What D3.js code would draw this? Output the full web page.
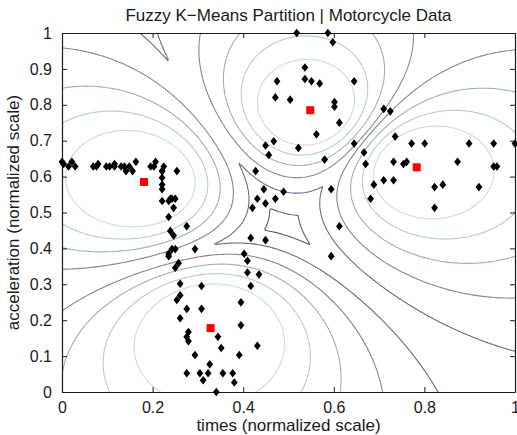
<!DOCTYPE html>
<html>
<head>
<meta charset="utf-8">
<script src="https://cdn.jsdelivr.net/npm/d3@7"></script>
<style>
  body { margin: 0; background: #fff; }
  text { font-family: "Liberation Sans", Arial, Helvetica, sans-serif; fill: #1a1a1a; }
</style>
</head>
<body>
<div id="chart"></div>
<script>
// motorcycle data (times in ms, acceleration in g), shown on a normalized scale
var times = [2.4,2.6,3.2,3.6,4.0,6.2,6.6,6.8,7.8,8.2,8.8,8.8,9.6,10.0,10.2,10.6,11.0,11.4,13.2,13.6,
  13.8,14.6,14.6,14.6,14.6,14.6,14.6,14.8,15.4,15.4,15.4,15.4,15.6,15.6,15.8,15.8,16.0,16.0,16.2,16.2,
  16.2,16.4,16.4,16.6,16.8,16.8,16.8,17.6,17.6,17.6,17.6,17.8,17.8,18.6,18.6,19.2,19.4,19.4,19.6,20.2,
  20.4,21.2,21.4,21.8,22.0,23.2,23.4,24.0,24.2,24.2,24.6,25.0,25.0,25.4,25.4,25.6,26.0,26.2,26.2,26.4,
  27.0,27.2,27.2,27.2,27.6,28.2,28.4,28.4,28.6,29.4,30.2,31.0,31.2,32.0,32.0,32.8,33.4,33.8,34.4,34.8,
  35.2,35.2,35.4,35.6,35.6,36.2,36.2,38.0,38.0,39.2,39.4,40.0,40.4,41.6,41.6,42.4,42.8,42.8,43.0,44.0,
  44.4,45.0,46.6,47.8,47.8,48.8,50.6,52.0,53.2,55.0,55.0,55.4,57.6];
var accel = [0.0,-1.3,-2.7,0.0,-2.7,-2.7,-2.7,-1.3,-2.7,-2.7,-1.3,-2.7,-2.7,-2.7,-5.4,-2.7,-5.4,0.0,-2.7,-2.7,
  0.0,-13.3,-5.4,-5.4,-9.3,-16.0,-22.8,-2.7,-22.8,-32.1,-53.5,-54.9,-40.2,-21.5,-21.5,-50.8,-42.9,-26.8,-21.5,-50.8,
  -61.7,-5.4,-80.4,-59.0,-71.0,-91.1,-77.7,-37.5,-85.6,-123.1,-101.9,-99.1,-104.4,-112.5,-50.8,-123.1,-85.6,-72.3,-127.2,-123.1,
  -117.9,-134.0,-101.9,-108.4,-123.1,-123.1,-128.5,-112.5,-95.1,-81.8,-53.5,-64.4,-57.6,-72.3,-44.3,-26.8,-5.4,-107.1,-21.5,-65.6,
  -16.0,-45.6,-24.2,9.5,4.0,12.0,-21.5,37.5,46.9,-17.4,36.2,75.0,8.1,54.9,48.2,46.9,16.0,45.6,1.3,75.0,
  -16.0,-54.9,69.6,34.8,32.1,-37.5,22.8,46.9,10.7,5.4,-1.3,-21.5,-13.3,30.8,-10.7,29.4,0.0,-10.7,14.7,-1.3,
  0.0,10.7,10.7,-26.8,-14.7,-13.3,0.0,10.7,-14.7,-2.7,10.7,-2.7,10.7];

// cluster centers (normalized)
var centerX = [0.181, 0.328, 0.548, 0.783];
var centerY = [0.585, 0.178, 0.785, 0.626];

// membership contour levels, dark (low) to light (high)
var levels = [0.3, 0.4, 0.5, 0.6, 0.7, 0.8];
var levelColors = ["#5c5c6e", "#6a6a8a", "#84849f", "#9eb2b6", "#b5cccc", "#c9dddd"];
var xTicks = [0, 0.2, 0.4, 0.6, 0.8, 1];
var yTicks = [0, 0.1, 0.2, 0.3, 0.4, 0.5, 0.6, 0.7, 0.8, 0.9, 1];

var width = 517, height = 435;
var margin = {top: 33, right: 2, bottom: 43, left: 62};
var w = width - margin.left - margin.right,
    h = height - margin.top - margin.bottom;

var svg = d3.select("#chart").append("svg")
    .attr("width", width)
    .attr("height", height);

var g = svg.append("g").attr("transform", "translate(" + margin.left + "," + margin.top + ")");

var x = d3.scaleLinear().domain([0, 1]).range([0, w]);
var y = d3.scaleLinear().domain([0, 1]).range([h, 0]);

var tScale = d3.scaleLinear().domain(d3.extent(times)).range([0, 1]);
var aScale = d3.scaleLinear().domain(d3.extent(accel)).range([0, 1]);

svg.append("defs").append("clipPath").attr("id", "clip")
  .append("rect").attr("width", w).attr("height", h);

// fuzzy membership (m = 2), take max over clusters
function maxMembership(px, py) {
  var inv = centerX.map(function(cx, k) {
    var dx = px - cx, dy = py - centerY[k];
    return 1 / Math.max(dx * dx + dy * dy, 1e-9);
  });
  return d3.max(inv) / d3.sum(inv);
}

var n = 241;
var values = new Array(n * n);
for (var j = 0; j < n; j++) {
  for (var i = 0; i < n; i++) {
    values[j * n + i] = maxMembership(i / (n - 1), j / (n - 1));
  }
}

var contours = d3.contours().size([n, n]).smooth(true).thresholds(levels)(values);

var proj = d3.geoTransform({
  point: function(px, py) {
    this.stream.point(x((px - 0.5) / (n - 1)), y((py - 0.5) / (n - 1)));
  }
});
var path = d3.geoPath(proj);

var color = d3.scaleOrdinal().domain(levels).range(levelColors);

g.append("g").attr("clip-path", "url(#clip)")
  .selectAll("path")
  .data(contours)
  .enter().append("path")
    .attr("d", path)
    .attr("fill", "none")
    .attr("stroke", function(d) { return color(d.value); })
    .attr("stroke-width", 1.1);

// axes box with inward ticks
var xAxis = d3.axisBottom(x).tickValues(xTicks).tickSize(-5).tickSizeOuter(0).tickPadding(10).tickFormat(d3.format("~g"));
var yAxis = d3.axisLeft(y).tickValues(yTicks).tickSize(-5).tickSizeOuter(0).tickPadding(10).tickFormat(d3.format("~g"));

g.append("g").attr("transform", "translate(0," + h + ")").call(xAxis);
g.append("g").call(yAxis);
g.append("g").call(d3.axisTop(x).tickValues(xTicks).tickSize(-5).tickSizeOuter(0).tickFormat(""));
g.append("g").attr("transform", "translate(" + w + ",0)")
  .call(d3.axisRight(y).tickValues(yTicks).tickSize(-5).tickSizeOuter(0).tickFormat(""));

g.selectAll(".domain").attr("stroke", "#1a1a1a").attr("stroke-width", 1.2);
g.selectAll(".tick line").attr("stroke", "#1a1a1a");
g.selectAll(".tick text").attr("font-size", 16).attr("fill", "#1a1a1a")
  .style("font-family", "'Liberation Sans', Arial, sans-serif");

// data points
var diamond = "M0,-4.3L3.4,0L0,4.3L-3.4,0Z";
g.append("g").selectAll("path")
  .data(times.map(function(t, i) { return [tScale(t), aScale(accel[i])]; }))
  .enter().append("path")
    .attr("transform", function(d) { return "translate(" + x(d[0]) + "," + y(d[1]) + ")"; })
    .attr("d", diamond)
    .attr("fill", "#000");

// cluster centers
g.append("g").selectAll("rect")
  .data(centerX)
  .enter().append("rect")
    .attr("x", function(d) { return x(d) - 4; })
    .attr("y", function(d, i) { return y(centerY[i]) - 4; })
    .attr("width", 8).attr("height", 8)
    .attr("fill", "#f00");

svg.append("text")
  .attr("x", margin.left + w / 2).attr("y", 21)
  .attr("text-anchor", "middle").attr("font-size", 17)
  .text("Fuzzy K\u2212Means Partition | Motorcycle Data");

svg.append("text")
  .attr("x", margin.left + w / 2).attr("y", 431)
  .attr("text-anchor", "middle").attr("font-size", 17)
  .text("times (normalized scale)");

svg.append("text")
  .attr("transform", "translate(19," + (margin.top + h / 2) + ") rotate(-90)")
  .attr("text-anchor", "middle").attr("font-size", 17)
  .text("acceleration (normalized scale)");
</script>
</body>
</html>
